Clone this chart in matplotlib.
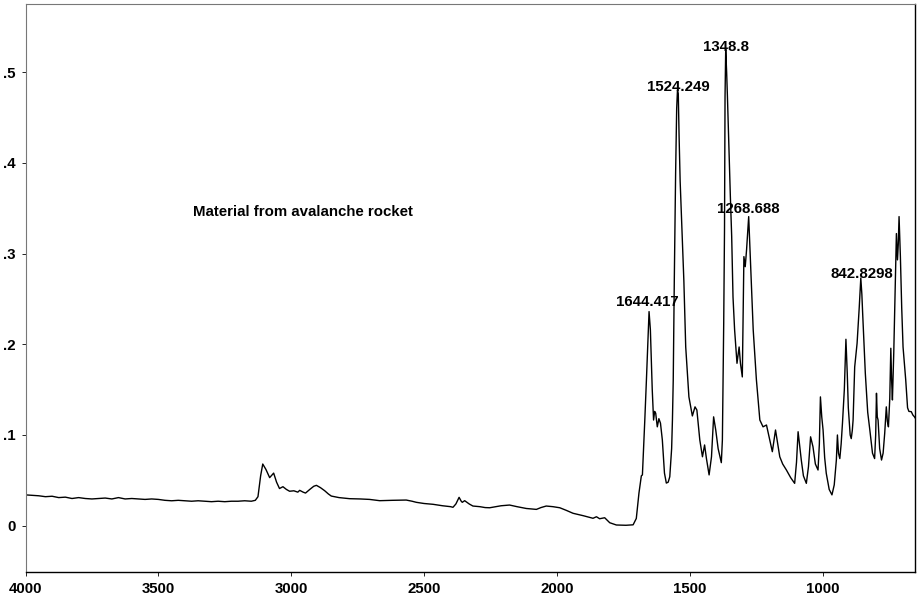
import matplotlib
matplotlib.use("Agg")
import matplotlib.pyplot as plt

plt.rcParams['font.family'] = ['Liberation Sans', 'DejaVu Sans']

wavenumber = [
    4000, 3975, 3950, 3925, 3900, 3875, 3850, 3825, 3800, 3775, 3750, 3725, 3700, 3675, 3650,
    3625, 3600, 3575, 3550, 3525, 3500, 3475, 3450, 3425, 3400, 3375, 3350, 3325, 3300, 3275,
    3250, 3225, 3200, 3175, 3150, 3135, 3125, 3115, 3107, 3095, 3081, 3066, 3055, 3044, 3031,
    3018, 3006, 2990, 2975, 2968, 2955, 2946, 2930, 2915, 2905, 2890, 2874, 2860, 2849, 2820,
    2780, 2740, 2705, 2667, 2620, 2567, 2545, 2529, 2500, 2466, 2430, 2400, 2391, 2380, 2368,
    2360, 2356, 2347, 2330, 2316, 2290, 2270, 2253, 2230, 2210, 2178, 2150, 2115, 2077, 2060,
    2040, 2015, 1989, 1965, 1939, 1900, 1864, 1851, 1839, 1820, 1801, 1776, 1740, 1713, 1701,
    1691, 1682, 1678, 1669, 1663, 1656, 1653, 1648, 1641, 1636, 1632, 1628, 1622, 1616, 1610,
    1603, 1595, 1588, 1581, 1575, 1568, 1565, 1562, 1558, 1553, 1549, 1546, 1543, 1540, 1536,
    1530, 1522, 1515, 1503, 1490, 1480, 1473, 1462, 1452, 1444, 1437, 1427, 1418, 1410, 1402,
    1393, 1381, 1377, 1372, 1369, 1367, 1364.5, 1361, 1358, 1347, 1342, 1337, 1331, 1322, 1314,
    1309, 1302, 1296, 1291, 1286, 1278, 1271, 1261, 1249, 1236, 1224, 1211, 1189, 1177, 1161,
    1150, 1136, 1120, 1105, 1098, 1092, 1080, 1072, 1061, 1053, 1045, 1036, 1027, 1017, 1012,
    1008, 1003, 998, 992, 986, 975, 964.6, 956, 948, 944, 940, 935, 930, 925, 918,
    912, 907, 903, 900, 896, 892, 888, 885, 879, 870, 862, 856, 852, 849, 839,
    830, 822, 812, 804, 800, 797, 794, 791, 785, 778, 772, 766, 760, 756, 752,
    747, 743, 740, 737, 732, 728, 722, 718, 715, 712, 707, 702, 697, 687, 680,
    675, 666, 660, 654, 652,
]
absorbance = [
    0.034, 0.0335, 0.033, 0.032, 0.0325, 0.031, 0.0315, 0.030, 0.031, 0.030, 0.0295, 0.030, 0.0305, 0.0295, 0.031,
    0.0295, 0.030, 0.0295, 0.029, 0.0295, 0.029, 0.028, 0.0275, 0.028, 0.0275, 0.027, 0.0275, 0.027, 0.0265, 0.027,
    0.0265, 0.027, 0.027, 0.0275, 0.027, 0.028, 0.032, 0.055, 0.068, 0.062, 0.053, 0.058, 0.048, 0.041, 0.043,
    0.040, 0.038, 0.0385, 0.037, 0.039, 0.037, 0.036, 0.040, 0.0435, 0.0445, 0.042, 0.0386, 0.035, 0.0327, 0.031,
    0.0298, 0.0295, 0.029, 0.0276, 0.028, 0.0283, 0.027, 0.0258, 0.0245, 0.0236, 0.022, 0.021, 0.0203, 0.024, 0.0313,
    0.027, 0.0258, 0.0276, 0.024, 0.0217, 0.021, 0.020, 0.0198, 0.021, 0.022, 0.0228, 0.021, 0.019, 0.018, 0.020,
    0.0217, 0.021, 0.0198, 0.017, 0.0137, 0.011, 0.0082, 0.0099, 0.0077, 0.0088, 0.0033, 0.0008, 0.0005, 0.001, 0.008,
    0.036, 0.055, 0.056, 0.1165, 0.16, 0.215, 0.236, 0.216, 0.15, 0.1165, 0.126, 0.124, 0.109, 0.118, 0.113,
    0.0945, 0.058, 0.047, 0.048, 0.054, 0.085, 0.1165, 0.16, 0.27, 0.389, 0.46, 0.480, 0.476, 0.43, 0.38,
    0.333, 0.27, 0.197, 0.142, 0.121, 0.131, 0.1275, 0.0945, 0.076, 0.089, 0.074, 0.056, 0.076, 0.12, 0.1055,
    0.085, 0.0695, 0.0945, 0.223, 0.326, 0.473, 0.525, 0.50, 0.473, 0.363, 0.319, 0.252, 0.216, 0.179, 0.197,
    0.179, 0.164, 0.2966, 0.2855, 0.304, 0.3407, 0.289, 0.216, 0.161, 0.1165, 0.109, 0.111, 0.0816, 0.1055, 0.076,
    0.068, 0.0614, 0.053, 0.0467, 0.07, 0.1036, 0.0724, 0.055, 0.0467, 0.065, 0.098, 0.087, 0.068, 0.0614, 0.09,
    0.142, 0.12, 0.1055, 0.075, 0.0578, 0.04, 0.034, 0.045, 0.0724, 0.1, 0.08, 0.074, 0.09, 0.113, 0.15,
    0.2055, 0.168, 0.13, 0.1165, 0.1, 0.096, 0.105, 0.1165, 0.175, 0.201, 0.24, 0.273, 0.255, 0.234, 0.168,
    0.125, 0.1055, 0.08, 0.074, 0.1, 0.146, 0.12, 0.1165, 0.085, 0.0724, 0.08, 0.102, 0.131, 0.115, 0.109,
    0.14, 0.1956, 0.16, 0.1386, 0.19, 0.2415, 0.322, 0.293, 0.31, 0.3407, 0.2966, 0.24, 0.197, 0.161, 0.13,
    0.126, 0.1257, 0.122, 0.12, 0.119,
]

peak_labels = ["1644.417", "1524.249", "1348.8", "1268.688", "842.8298"]
label_x = [1658, 1541, 1362, 1278, 852]
label_y = [0.247, 0.484, 0.528, 0.349, 0.2775]

x_ticks = [4000, 3500, 3000, 2500, 2000, 1500, 1000]
x_tick_labels = ["4000", "3500", "3000", "2500", "2000", "1500", "1000"]
y_ticks = [0, 0.1, 0.2, 0.3, 0.4, 0.5]
y_tick_labels = ["0", ".1", ".2", ".3", ".4", ".5"]

title_text = "Material from avalanche rocket"

FS = 10.8

fig = plt.figure(figsize=(9.18, 6.0), dpi=100)
ax = fig.add_axes([25.5 / 918, 28 / 600, (915 - 25.5) / 918, (572 - 4) / 600])
ax.plot(wavenumber, absorbance, color='black', lw=1.0)

ax.set_xlim(4000, 652)
ax.set_ylim(-0.051, 0.575)
ax.set_xticks(x_ticks)
ax.set_xticklabels(x_tick_labels, fontweight='bold')
ax.set_yticks(y_ticks)
ax.set_yticklabels(y_tick_labels, fontweight='bold')
ax.tick_params(direction='out', length=3, width=0.6, labelsize=FS, pad=4, colors='black')

for name in ['left', 'top']:
    ax.spines[name].set_color('#777777')
    ax.spines[name].set_linewidth(0.8)
for name in ['right', 'bottom']:
    ax.spines[name].set_color('black')
    ax.spines[name].set_linewidth(1.0)

for txt, lx, ly in zip(peak_labels, label_x, label_y):
    ax.text(lx, ly, txt, ha='center', va='center', fontsize=FS, fontweight='bold')

ax.text(3371, 0.346, title_text, ha='left', va='center', fontsize=FS, fontweight='bold')

fig.savefig('out.png', dpi=100)
